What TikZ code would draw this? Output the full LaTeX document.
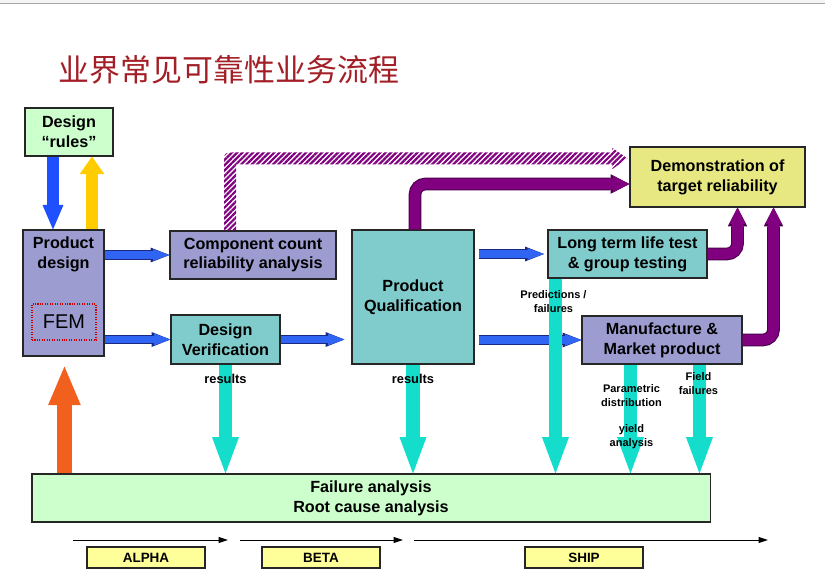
\documentclass[tikz,border=0pt]{standalone}
\usepackage{fontspec}
\setmainfont{Liberation Sans}
\newfontfamily\cjk{Noto Sans CJK SC}
\usepackage{tikz}
\usetikzlibrary{arrows.meta,positioning,calc,patterns.meta}
\definecolor{titlered}{HTML}{A21F27}
\definecolor{mint}{HTML}{CCFFCC}
\definecolor{lav}{HTML}{9C9CD0}
\definecolor{tealbox}{HTML}{80CCCC}
\definecolor{lemon}{HTML}{E8E882}
\definecolor{paleyel}{HTML}{FFFF99}
\definecolor{fatblue}{HTML}{1E50FF}
\definecolor{arrblue}{HTML}{3064F2}
\definecolor{bluedark}{HTML}{1A2A80}
\definecolor{amber}{HTML}{FFCC00}
\definecolor{flame}{HTML}{F2601E}
\definecolor{aqua}{HTML}{14DDCC}
\definecolor{plum}{HTML}{800080}
\definecolor{plumdark}{HTML}{4A004A}
\tikzset{
  box/.style={draw=black!85,line width=0.9pt,align=center,inner sep=2pt,
              font=\bfseries\fontsize{13.8}{17}\selectfont},
  lavbox/.style={box,fill=lav},
  tealb/.style={box,fill=tealbox},
  mintb/.style={box,fill=mint},
  txt/.style={align=center,inner sep=2pt,font=\bfseries\fontsize{13.8}{17}\selectfont},
  phase/.style={box,fill=paleyel,minimum width=3.54cm,minimum height=0.63cm,
                font=\bfseries\fontsize{11.5}{13}\selectfont},
  lbl/.style={align=center,inner sep=1pt,font=\bfseries\fontsize{9.4}{12}\selectfont},
  barr/.style={arrblue,line width=6pt,-{Triangle[width=10pt,length=14pt,line width=0pt]},
               preaction={draw=bluedark,line width=7.8pt,-{Triangle[width=12.6pt,length=16pt,line width=0pt]}}},
  dnarr/.style={fatblue,line width=9.5pt,-{Triangle[width=18pt,length=21pt,line width=0pt]}},
  uparr/.style={amber,line width=11pt,-{Triangle[width=21pt,length=15pt,line width=0pt]}},
  orarr/.style={flame,line width=13.5pt,-{Triangle[width=28pt,length=33pt,line width=0pt]}},
  cyarr/.style={aqua,line width=11.5pt,-{Triangle[width=23pt,length=31pt,line width=0pt]}},
  parr/.style={plum,line width=9pt,rounded corners=9pt,-{Triangle[width=14pt,length=14pt,line width=0pt]},
               preaction={draw=plumdark,line width=10.8pt,-{Triangle[width=16.6pt,length=16pt,line width=0pt]}}},
  tline/.style={black,line width=0.8pt,-{Triangle[width=5pt,length=8pt]}},
}
\begin{document}
\begin{tikzpicture}[x=0.03cm,y=-0.03cm]
  \useasboundingbox (0,0) rectangle (825,570);
  \fill[gray!8] (0,0) rectangle (825,3);
  \draw[gray!70,line width=0.8pt] (0,3.5) -- (825,3.5);

  \node[font=\cjk\fontsize{26.4}{30}\selectfont,text=titlered] (title) at (229,70) {业界常见可靠性业务流程};

  % boxes
  \node[mintb,minimum width=2.64cm,minimum height=1.44cm] (rules) at (69,132) {Design\\“rules”};
  \node[lavbox,minimum width=2.43cm,minimum height=3.78cm] (pd) at (63.5,293) {};
  \node[txt,anchor=north] (pdtxt) at ($(pd.north)+(0,5)$) {Product\\design};
  \node[draw=red!80!black,line width=0.9pt,dash pattern=on 0.9pt off 1.2pt,
        minimum width=1.92cm,minimum height=1.08cm,font=\fontsize{17}{20}\selectfont] (fem) at (64,322) {FEM};
  \node[lavbox,minimum width=4.98cm,minimum height=1.44cm] (comp) at (253,255) {Component count\\reliability analysis};
  \node[tealb,minimum width=3.27cm,minimum height=1.47cm] (dver) at (225.5,339.5) {Design\\Verification};
  \node[tealb,minimum width=3.66cm,minimum height=4.02cm] (pqual) at (413,297) {Product\\Qualification};
  \node[tealb,minimum width=4.77cm,minimum height=1.44cm] (ltest) at (627.5,254) {Long term life test\\\& group testing};
  \node[box,fill=lemon,minimum width=5.25cm,minimum height=1.8cm] (demo) at (717.5,177) {Demonstration of\\target reliability};
  \node[lavbox,minimum width=4.8cm,minimum height=1.44cm] (manuf) at (662,340) {Manufacture \&\\Market product};
  \node[mintb,minimum width=20.34cm,minimum height=1.44cm] (fail) at (371,498) {Failure analysis\\Root cause analysis};
  \node[phase] (alpha) at (146,557.5) {ALPHA};
  \node[phase] (beta) at (321,557.5) {BETA};
  \node[phase] (ship) at (584,557.5) {SHIP};

  % design rules loop
  \coordinate (db) at ($(rules.south)+(-16,0)$);
  \coordinate (ub) at ($(rules.south)+(23,0)$);
  \draw[dnarr] (db) -- (db |- pd.north);
  \draw[uparr] (ub |- pd.north) -- (ub);
  \coordinate (ob) at ($(fail.north west)+(33,0)$);
  \draw[orarr] (ob) -- ($(ob |- pd.south)+(0,10)$);

  % blue flow
  \draw[barr] (pd.east |- comp) -- (comp.west);
  \draw[barr] (pd.east |- dver) -- (dver.west);
  \draw[barr,shorten >=6pt] (dver.east) -- (dver.east -| pqual.west);
  \draw[barr,shorten <=4pt,shorten >=3pt] (pqual.east |- ltest) -- (ltest.west);
  \draw[barr,shorten <=4pt] (pqual.east |- manuf) -- (manuf.west);

  % purple to demonstration
  \coordinate (hs) at ($(comp.north)+(-23,0)$);
  \coordinate (ht) at ($(demo.north west)+(-2,12)$);
  \coordinate (hc) at (hs |- ht);
  \fill[pattern={Lines[angle=45,distance=3.2pt,line width=1.9pt]},pattern color=plum]
    ($(hs)+(-6,0)$) -- ($(hc)+(-6,6)$) .. controls ($(hc)+(-6,-6)$) .. ($(hc)+(6,-6)$)
    -- ($(ht)+(-15,-6)$) -- ($(ht)+(-15,-10.5)$) -- (ht) -- ($(ht)+(-15,10.5)$)
    -- ($(ht)+(-15,6)$) -- ($(hc)+(6,6)$) -- ($(hs)+(6,0)$) -- cycle;
  \draw[parr] ($(pqual.north)+(2,0)$) |- ($(demo.west)+(0,7)$);
  \draw[parr] (ltest.east) -| ($(demo.south)+(20,0)$);
  \draw[parr] (manuf.east) -| ($(demo.south)+(56,0)$);

  % results to failure analysis
  \coordinate (c3) at ($(ltest.south west)+(8,0)$);
  \coordinate (c4) at ($(manuf.south west)+(49,0)$);
  \coordinate (c5) at ($(manuf.south west)+(118,0)$);
  \draw[cyarr] (dver.south) -- (dver.south |- fail.north);
  \draw[cyarr] (pqual.south) -- (pqual.south |- fail.north);
  \draw[cyarr] (c3) -- (c3 |- fail.north);
  \draw[cyarr] (c4) -- (c4 |- fail.north);
  \draw[cyarr] (c5) -- (c5 |- fail.north);
  \node[lbl,font=\bfseries\fontsize{11}{13}\selectfont] (res1) at ($(dver.south)+(0,14)$) {results};
  \node[lbl,font=\bfseries\fontsize{11}{13}\selectfont] (res2) at ($(pqual.south)+(0,14)$) {results};
  \node[lbl] (pred) at ($(c3)+(-2,23)$) {Predictions /\\failures};
  \node[lbl] (param) at ($(c4)+(1,31)$) {Parametric\\distribution};
  \node[lbl] (yield) at ($(c4)+(1,72)$) {yield\\analysis};
  \node[lbl] (field) at ($(c5)+(-1,19)$) {Field\\failures};

  % phases
  \foreach \a/\b [count=\i] in {73/228,240/403,414/768}{
    \coordinate (ts\i) at (\a,540);
    \coordinate (te\i) at (\b,540);
    \draw[tline] (ts\i) -- (te\i);
  }
\end{tikzpicture}
\end{document}
